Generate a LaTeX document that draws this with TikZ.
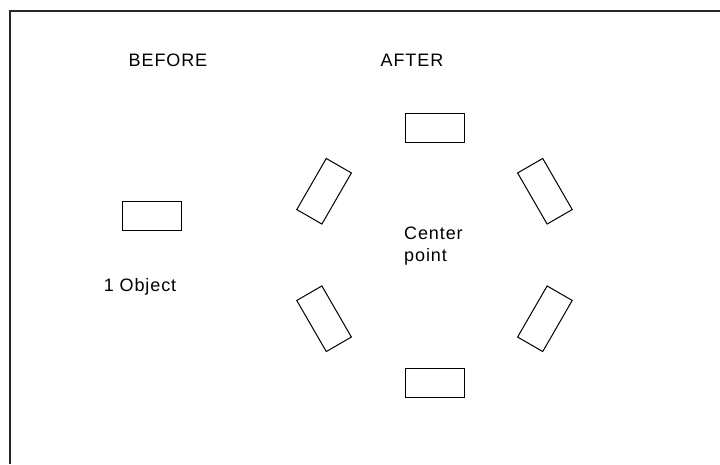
\documentclass[tikz,border=0pt]{standalone}
\usepackage{fontspec}
\setmainfont{Liberation Sans}[LetterSpace=5]
\usepackage{tikz}
\usetikzlibrary{positioning}

\begin{document}
\begin{tikzpicture}[
  x=1pt, y=1pt,
  obj/.style={draw, line width=1pt, minimum width=59pt, minimum height=29pt, inner sep=0pt},
  lbl/.style={font=\fontsize{18}{22}\selectfont, inner sep=0pt},
  >=latex
]
\useasboundingbox (0,0) rectangle (720,-464);
% page frame
\draw[line width=1.3pt, black!85] (10,-464) -- (10,-11) -- (720,-11);

\node[lbl] (before) at (168,-60) {BEFORE};
\node[lbl] (after) at (412,-60) {AFTER};

% single object
\node[obj] (single) at (151.5,-215.5) {};
\node[lbl] (count) at (140,-287) {1 Object};

% six objects round the center point
\coordinate (ctr) at (434.5,-255);
\foreach \a in {30,90,...,330}
  \node[obj, rotate=\a-90] (obj\a) at ([shift={(\a:127.5)}]ctr) {};
\node[lbl, align=left, anchor=west] (centre) at (404,-246) {Center\\point};
\end{tikzpicture}
\end{document}
